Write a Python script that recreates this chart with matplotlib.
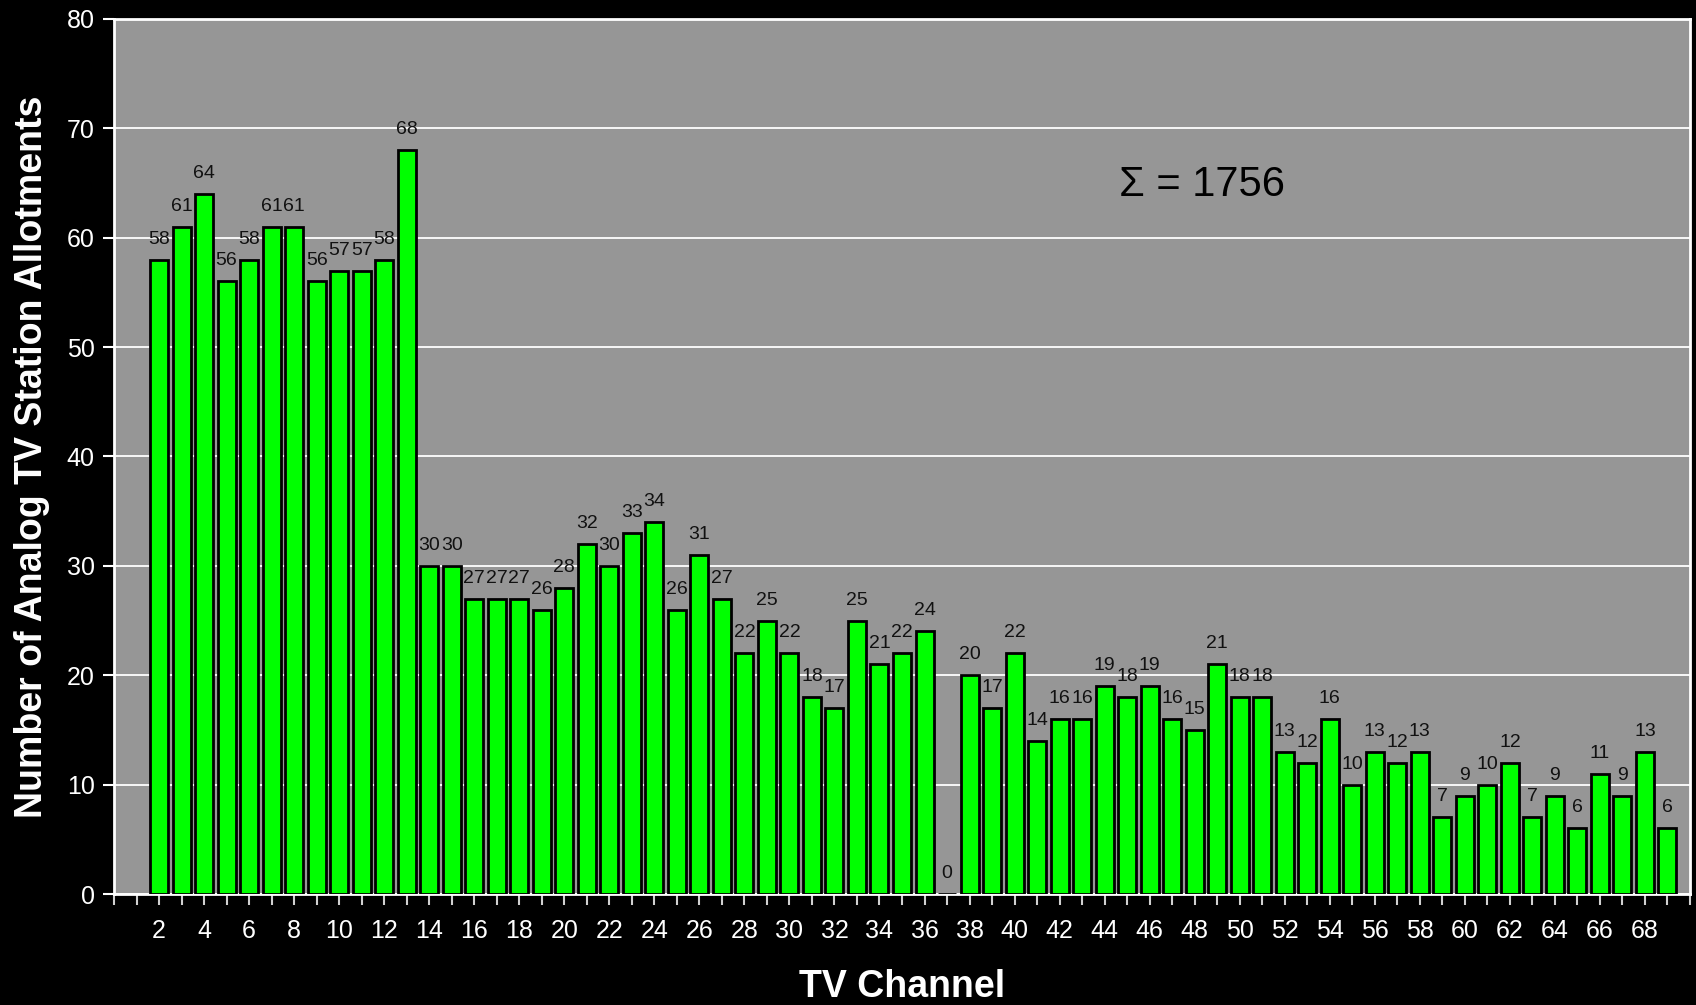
import matplotlib.pyplot as plt

plt.rcParams["font.family"] = ["Liberation Sans", "DejaVu Sans"]

# analog TV allotments per channel, channels 2..69
channels = list(range(2, 70))
allotments = [
    58, 61, 64, 56, 58, 61, 61, 56, 57, 57, 58, 68,
    30, 30, 27, 27, 27, 26, 28, 32, 30, 33, 34, 26, 31, 27, 22, 25, 22, 18, 17, 25, 21, 22, 24,
    0,
    20, 17, 22, 14, 16, 16, 19, 18, 19, 16, 15, 21, 18, 18, 13, 12, 16, 10, 13, 12, 13,
    7, 9, 10, 12, 7, 9, 6, 11, 9, 13, 6,
]
tick_positions = list(range(0, 71))
tick_labels = [str(t) if t % 2 == 0 and 2 <= t <= 68 else "" for t in tick_positions]
y_ticks = list(range(0, 81, 10))
total = sum(allotments)

fig = plt.figure(figsize=(16.96, 10.05), dpi=100, facecolor="black")
ax = fig.add_axes([114 / 1696, 1 - 894 / 1005, (1690 - 114) / 1696, (894 - 19) / 1005])
ax.set_facecolor("#969696")

ax.bar(channels, allotments, width=0.8, color="#00ff00", edgecolor="black", linewidth=2, zorder=3)
for x, v in zip(channels, allotments):
    ax.text(x, v + 1.1, str(v), ha="center", va="bottom", fontsize=14, color="#111111", zorder=4)

ax.set_xlim(0, 70)
ax.set_ylim(0, 80)
ax.set_yticks(y_ticks)
ax.set_xticks(tick_positions)
ax.set_xticklabels(tick_labels)
ax.tick_params(axis="x", length=8, width=1.5, color="#d0d0d0", pad=10, labelsize=18, labelcolor="white")
ax.tick_params(axis="y", length=8, width=1.5, color="white", labelsize=18, labelcolor="white", pad=6)
ax.grid(axis="y", color="white", linewidth=1.3, zorder=1)
for side in ax.spines.values():
    side.set_color("white")
    side.set_linewidth(2)

ax.set_xlabel("TV Channel", fontsize=27, fontweight="bold", color="white", labelpad=19)
ax.set_ylabel("Number of Analog TV Station Allotments", fontsize=27, fontweight="bold",
              color="white", labelpad=12)

ax.text(0.638, 0.81, f"\u03a3 = {total}", transform=ax.transAxes, fontsize=30, color="black",
        ha="left", va="center")

fig.savefig("out.png", dpi=100, facecolor="black")
